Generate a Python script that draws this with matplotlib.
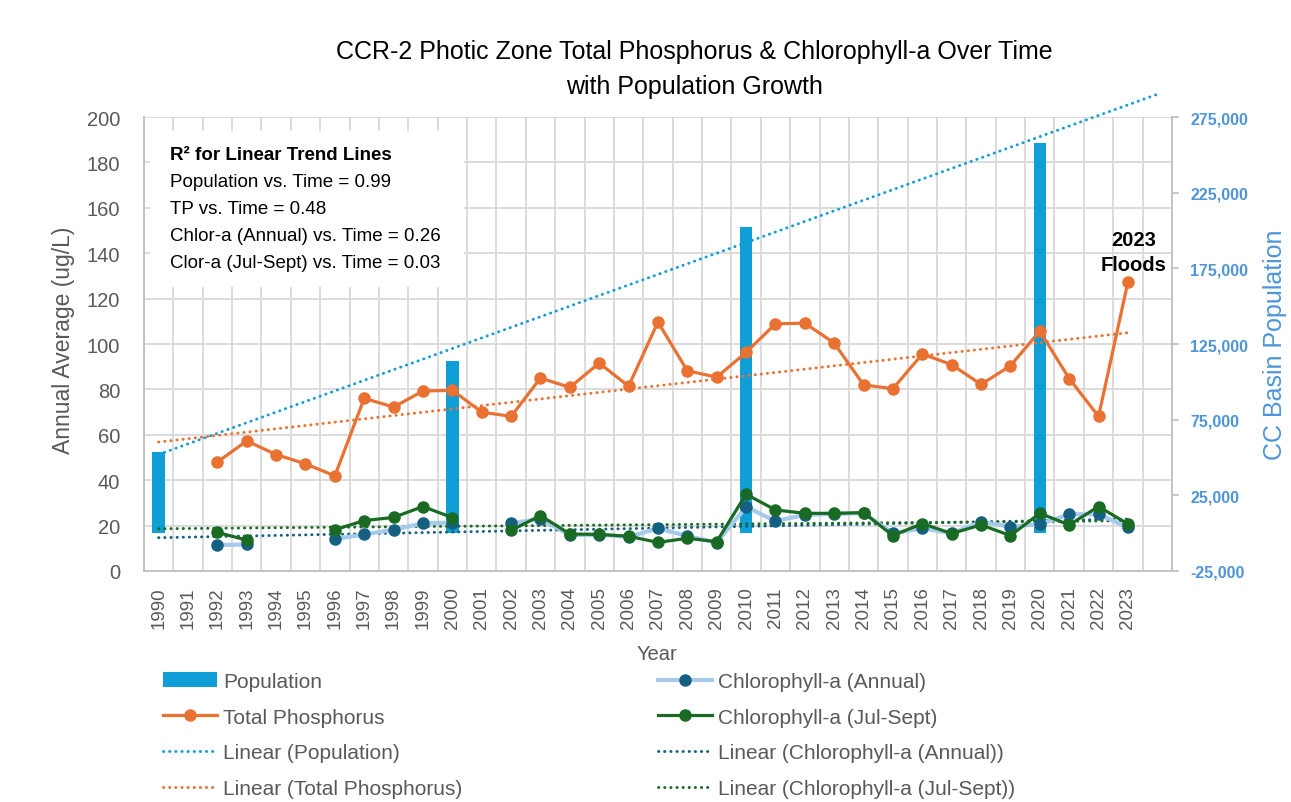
import matplotlib
matplotlib.use("Agg")
import matplotlib.pyplot as plt
import numpy as np
from matplotlib.lines import Line2D
from matplotlib.patches import Patch, Rectangle
from matplotlib.ticker import FuncFormatter

plt.rcParams["font.family"] = ["Liberation Sans", "DejaVu Sans"]

# ---- data ----
years = list(range(1990, 2024))
nan = np.nan

total_phosphorus = [nan, nan, 48.0, 57.3, 51.3, 47.2, 41.9, 76.1, 72.2, 79.3,
                    79.6, 70.0, 68.1, 85.0, 80.9, 91.6, 81.4, 109.7, 88.2, 85.4,
                    96.3, 108.9, 109.2, 100.4, 82.0, 80.3, 95.6, 90.9, 82.2, 90.4,
                    105.7, 84.8, 68.1, 127.3]

chl_annual = [nan, nan, 11.4, 11.7, nan, nan, 14.1, 16.1, 18.2, 21.0,
              21.3, nan, 21.0, 23.0, 15.8, 16.0, 15.0, 18.8, 15.4, 12.5,
              28.2, 22.0, 24.7, 25.2, 25.5, 16.6, 18.8, 16.6, 21.7, 19.5,
              20.6, 25.0, 25.0, 19.2]

chl_julsept = [nan, nan, 17.0, 13.6, nan, nan, 18.2, 22.2, 23.6, 28.4,
               23.5, nan, 17.9, 24.4, 16.3, 16.1, 15.3, 12.6, 14.4, 12.9,
               33.8, 26.9, 25.4, 25.4, 25.7, 15.6, 20.9, 16.5, 20.3, 15.6,
               25.4, 20.3, 28.4, 20.7]

pop_years = [1990, 2000, 2010, 2020]
population = [53900, 114000, 202400, 257800]

# trend lines span the category range of each series
trend_span_pop = (1990, 2024)
trend_span_wq = (1990, 2023)

r2_lines = ["Population vs. Time = 0.99",
            "TP vs. Time = 0.48",
            "Chlor-a (Annual) vs. Time = 0.26",
            "Clor-a (Jul-Sept) vs. Time = 0.03"]

# ---- style ----
POP_C = "#0F9ED5"
TP_C = "#E97132"
CHL_LINE = "#A6CAEC"
CHL_MARK = "#156082"
JS_C = "#196B24"
GRID_C = "#D9D9D9"
TXT_C = "#595959"
RIGHT_C = "#4E95D9"
DOT = (0, (0.1, 2.0))


def trend(x, y, span):
    x = np.asarray(x, float)
    y = np.asarray(y, float)
    ok = ~np.isnan(y)
    k, b = np.polyfit(x[ok], y[ok], 1)
    xs = np.array(span, float)
    return xs, k * xs + b


fig = plt.figure(figsize=(12.91, 8.03), dpi=100)
ax = fig.add_axes([0.1115, 0.2877, 0.7963, 0.5653])
ax2 = ax.twinx()
ax3 = ax.twinx()

# base axis: grid + left ticks
ax.set_xlim(1989.5, 2024.5)
ax.set_ylim(0, 200)
ax.set_yticks(np.arange(0, 201, 20))
ax.set_xticks(years)
ax.set_xticklabels([str(y) for y in years], rotation=90)
ax.set_xticks(np.arange(1989.5, 2025, 1), minor=True)
ax.grid(axis="y", which="major", color=GRID_C, lw=1.3)
ax.grid(axis="x", which="minor", color=GRID_C, lw=1.3)
ax.tick_params(axis="x", which="both", length=0, pad=11, labelsize=13.5, labelcolor=TXT_C)
ax.tick_params(axis="y", length=0, pad=17, labelsize=14.5, labelcolor=TXT_C)
for s in ["top", "right"]:
    ax.spines[s].set_visible(False)
for s in ["left", "bottom"]:
    ax.spines[s].set_color("#BFBFBF")
    ax.spines[s].set_linewidth(1.3)
ax.set_ylabel("Annual Average (ug/L)", fontsize=16.5, color=TXT_C)
ax.yaxis.set_label_coords(-0.067, 0.51)
ax.set_xlabel("Year", fontsize=14.5, color=TXT_C)
ax.xaxis.set_label_coords(0.499, -0.16)

# text box background
ax.add_patch(Rectangle((0.006, 0.625), 0.305, 0.345, transform=ax.transAxes,
                       facecolor="white", edgecolor="none", zorder=2))

# secondary axis: population
ax2.set_ylim(-25000, 275000)
ax2.set_yticks(np.arange(-25000, 275001, 50000))
ax2.yaxis.set_major_formatter(FuncFormatter(lambda v, p: f"{int(v):,}"))
ax2.tick_params(axis="y", length=5, width=1.2, color="#BFBFBF", pad=8,
                labelsize=11.5, labelcolor=RIGHT_C)
for lab in ax2.get_yticklabels():
    lab.set_fontweight("bold")
for s in ["top", "left", "bottom"]:
    ax2.spines[s].set_visible(False)
ax2.spines["right"].set_color("#BFBFBF")
ax2.spines["right"].set_linewidth(1.3)
ax2.set_ylabel("CC Basin Population", fontsize=18, color=RIGHT_C)
ax2.yaxis.set_label_coords(1.089, 0.5)

xs, ys = trend(pop_years, population, trend_span_pop)
ax2.plot(xs, ys, color=POP_C, lw=2.1, ls=DOT, dash_capstyle="round", zorder=1,
         clip_on=False)
ax2.bar(pop_years, population, width=0.42, color=POP_C, zorder=2)

# overlay axis: water-quality series on the left scale
ax3.set_ylim(0, 200)
ax3.yaxis.set_visible(False)
for s in ax3.spines.values():
    s.set_visible(False)

for vals, col in [(total_phosphorus, TP_C), (chl_annual, CHL_MARK), (chl_julsept, JS_C)]:
    xs, ys = trend(years, vals, trend_span_wq)
    ax3.plot(xs, ys, color=col, lw=2.1, ls=DOT, dash_capstyle="round", zorder=1)

ax3.plot(years, total_phosphorus, color=TP_C, lw=2.3, marker="o", ms=8, zorder=3)
ax3.plot(years, chl_annual, color=CHL_LINE, lw=3, marker="o", ms=8,
         mfc=CHL_MARK, mec=CHL_MARK, zorder=3)
ax3.plot(years, chl_julsept, color=JS_C, lw=2.3, marker="o", ms=8, zorder=4)

ax3.text(2023.2, 140.5, "2023\nFloods", ha="center", va="center", fontsize=14.5,
         fontweight="bold", color="black", linespacing=1.4)

# R^2 note
ax3.text(0.025, 0.918, "R² for Linear Trend Lines", transform=ax.transAxes,
         fontsize=13.5, fontweight="bold", color="black", va="center")
for i, line in enumerate(r2_lines):
    ax3.text(0.025, 0.858 - i * 0.0598, line, transform=ax.transAxes,
             fontsize=13.5, color="black", va="center")

# title
fig.text(0.538, 1 - 52 / 803, "CCR-2 Photic Zone Total Phosphorus & Chlorophyll-a Over Time",
         ha="center", va="center", fontsize=18, color="black")
fig.text(0.538, 1 - 87 / 803, "with Population Growth",
         ha="center", va="center", fontsize=18, color="black")

# legends
dot_kw = dict(lw=2.1, ls=DOT, dash_capstyle="round")
left_handles = [
    Patch(facecolor=POP_C, edgecolor="none"),
    Line2D([], [], color=TP_C, lw=2.3, marker="o", ms=8),
    Line2D([], [], color=POP_C, **dot_kw),
    Line2D([], [], color=TP_C, **dot_kw),
]
left_labels = ["Population", "Total Phosphorus", "Linear (Population)",
               "Linear (Total Phosphorus)"]
right_handles = [
    Line2D([], [], color=CHL_LINE, lw=3, marker="o", ms=8, mfc=CHL_MARK, mec=CHL_MARK),
    Line2D([], [], color=JS_C, lw=2.3, marker="o", ms=8),
    Line2D([], [], color=CHL_MARK, **dot_kw),
    Line2D([], [], color=JS_C, **dot_kw),
]
right_labels = ["Chlorophyll-a (Annual)", "Chlorophyll-a (Jul-Sept)",
                "Linear (Chlorophyll-a (Annual))", "Linear (Chlorophyll-a (Jul-Sept))"]

leg_kw = dict(loc="upper left", frameon=False, fontsize=15, labelcolor=TXT_C,
              handlelength=2.6, handletextpad=0.3, labelspacing=0.8, borderpad=0,
              borderaxespad=0)
fig.legend(left_handles, left_labels, bbox_to_anchor=(163 / 1291, 1 - 673 / 803), **leg_kw)
fig.legend(right_handles, right_labels, bbox_to_anchor=(658 / 1291, 1 - 673 / 803), **leg_kw)

fig.savefig("out.png", dpi=100)
